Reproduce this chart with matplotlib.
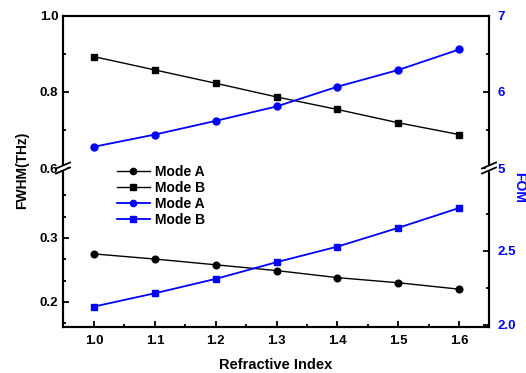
import matplotlib.pyplot as plt
from matplotlib.lines import Line2D
from matplotlib.patches import Rectangle

plt.rcParams['font.family'] = ['Liberation Sans', 'DejaVu Sans']
plt.rcParams['font.weight'] = 'bold'

# refractive index sweep
n_index = [1.0, 1.1, 1.2, 1.3, 1.4, 1.5, 1.6]

# FWHM (THz)
fwhm_mode_a = [0.275, 0.267, 0.258, 0.249, 0.238, 0.230, 0.220]
fwhm_mode_b = [0.893, 0.858, 0.823, 0.787, 0.754, 0.719, 0.688]

# figure of merit
fom_mode_a = [5.28, 5.44, 5.62, 5.81, 6.07, 6.29, 6.56]
fom_mode_b = [2.124, 2.214, 2.311, 2.424, 2.529, 2.656, 2.79]

blue = '#0000ff'
W, H = 526, 373

fig = plt.figure(figsize=(W / 100, H / 100), dpi=100)

x0, x1 = 63 / W, 489 / W
y_top, y_brk, y_bot = 1 - 16 / H, 1 - 168 / H, 1 - 327 / H

ax_t = fig.add_axes([x0, y_brk, x1 - x0, y_top - y_brk])
ax_b = fig.add_axes([x0, y_bot, x1 - x0, y_brk - y_bot], sharex=ax_t)
ax_tr = ax_t.twinx()
ax_br = ax_b.twinx()

lkw = dict(lw=1.0, ms=4.8)
ax_t.plot(n_index, fwhm_mode_b, 's-', color='black', **lkw)
ax_b.plot(n_index, fwhm_mode_a, 'o-', color='black', **lkw)
ax_tr.plot(n_index, fom_mode_a, 'o-', color=blue, lw=1.3, ms=5)
ax_br.plot(n_index, fom_mode_b, 's-', color=blue, lw=1.3, ms=4.8)

ax_t.set_xlim(0.949, 1.649)
ax_t.set_ylim(0.6, 1.0)
ax_tr.set_ylim(5, 7)
ax_b.set_ylim(0.161, 0.409)
ax_br.set_ylim(1.986, 3.06)

ax_t.set_yticks([0.6, 0.8, 1.0])
ax_t.set_yticks([0.7, 0.9], minor=True)
ax_tr.set_yticks([5, 6, 7])
ax_tr.set_yticks([5.5, 6.5], minor=True)
ax_b.set_yticks([0.2, 0.3])
ax_b.set_yticks([0.1667, 0.2333, 0.2667, 0.3333, 0.3667], minor=True)
ax_br.set_yticks([2.0, 2.5])
ax_br.set_yticks([2.25, 2.75], minor=True)
ax_b.set_xticks(n_index)
ax_b.set_xticks([1.05, 1.15, 1.25, 1.35, 1.45, 1.55], minor=True)

for ax in (ax_t, ax_b, ax_tr, ax_br):
    for s in ax.spines.values():
        s.set_linewidth(1.5)
    ax.tick_params(which='both', direction='in', width=1.3, labelsize=9.5)
    ax.tick_params(which='major', length=4)
    ax.tick_params(which='minor', length=2.5)

ax_t.spines['bottom'].set_visible(False)
ax_tr.spines['bottom'].set_visible(False)
ax_b.spines['top'].set_visible(False)
ax_br.spines['top'].set_visible(False)
ax_t.tick_params(axis='x', which='both', bottom=False, top=False, labelbottom=False)
ax_b.tick_params(axis='x', which='both', top=False, pad=6)
ax_b.tick_params(axis='y', which='both', right=False)
ax_t.tick_params(axis='y', which='both', right=False)
ax_tr.tick_params(axis='y', which='both', left=False, labelcolor=blue, pad=6)
ax_br.tick_params(axis='y', which='both', left=False, labelcolor=blue, pad=6)
ax_tr.set_yticklabels(['5', '6', '7'])

ax_b.set_xlabel('Refractive Index', fontsize=10.5, fontweight='bold', labelpad=8)
fig.text(22 / W, 1 - 170 / H, 'FWHM(THz)', rotation=90, ha='center', va='center',
         fontsize=10, fontweight='bold')
fig.text(519 / W, 1 - 187 / H, 'FOM', rotation=270, ha='center', va='center',
         fontsize=10, fontweight='bold', color=blue)

# break marks on both spines
for xs in (x0, x1):
    fig.add_artist(Rectangle((xs - 3 / W, y_brk - 2 / H), 6 / W, 4 / H,
                             transform=fig.transFigure, color='white', zorder=5))
    for dy in (-2.5, 2.5):
        yc = y_brk + dy / H
        fig.add_artist(Line2D([xs - 7 / W, xs + 7 / W], [yc - 3 / H, yc + 3 / H],
                              transform=fig.transFigure, color='black', lw=1.3, zorder=6))

handles = [
    Line2D([], [], color='black', marker='o', lw=1.0, ms=4.5),
    Line2D([], [], color='black', marker='s', lw=1.0, ms=4.5),
    Line2D([], [], color=blue, marker='o', lw=1.3, ms=4.5),
    Line2D([], [], color=blue, marker='s', lw=1.3, ms=4.5),
]
fig.legend(handles, ['Mode A', 'Mode B', 'Mode A', 'Mode B'], frameon=False,
           loc='upper left', bbox_to_anchor=(111 / W, 1 - 159 / H),
           prop={'weight': 'bold', 'size': 10}, handlelength=2.4,
           handletextpad=0.4, labelspacing=0.15, borderaxespad=0)

fig.savefig('out.png', dpi=100)
